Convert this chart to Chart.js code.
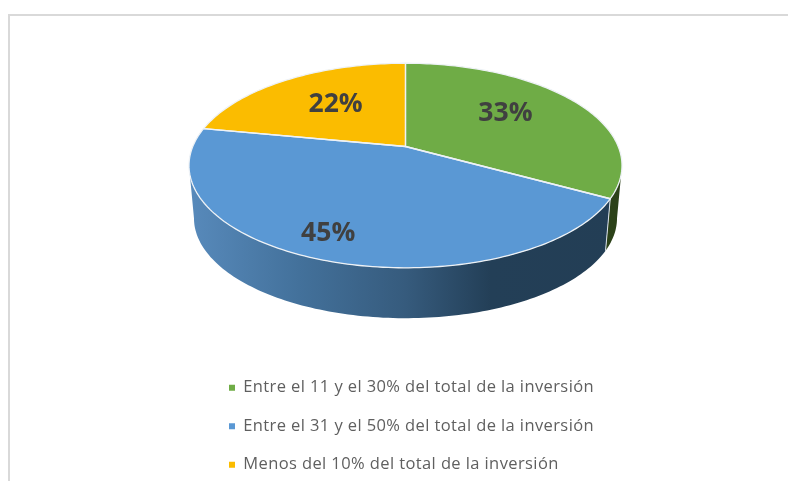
<!DOCTYPE html>
<html>
<head>
<meta charset="utf-8">
<style>
html,body{margin:0;padding:0;background:#fff;width:788px;height:481px;overflow:hidden}
#frame{position:absolute;left:8px;top:14px;width:780px;height:467px;border-top:2px solid #d9d9d9;border-left:2px solid #d9d9d9;box-sizing:border-box}
canvas{position:absolute;left:0;top:0}
</style>
</head>
<body>
<div id="frame"></div>
<canvas id="c" width="788" height="481"></canvas>
<script src="https://cdn.jsdelivr.net/npm/chart.js@4/dist/chart.umd.min.js"></script>
<script>
const categories = [
  "Entre el 11 y el 30% del total de la inversión",
  "Entre el 31 y el 50% del total de la inversión",
  "Menos del 10% del total de la inversión"
];
const values = [33, 45, 22];
const colors = ["#6FAC46", "#5A98D4", "#FBBC00"];

// perspective model of the tilted disc, in units of the pie radius
const K = 0.186, SX = 1.452, SY = 0.674;
const BOTTOM_SCALE = 0.977, BOTTOM_DROP = 0.363;
const LABEL_NUDGE = [[-4, -5], [-29, 25], [5, 0]];

function project(arc, a, f, bottom) {
  const r = arc.outerRadius, u = f * Math.cos(a), v = f * Math.sin(a), w = 1 - K * v;
  const s = bottom ? BOTTOM_SCALE : 1;
  return {
    x: arc.x + r * SX * s * u / w,
    y: arc.y + (bottom ? r * BOTTOM_DROP : 0) + r * SY * s * v / w
  };
}
function trace(ctx, arc, a0, a1, bottom, first) {
  const n = Math.max(2, Math.ceil(Math.abs(a1 - a0) / 0.02));
  for (let i = 0; i <= n; i++) {
    const p = project(arc, a0 + (a1 - a0) * i / n, 1, bottom);
    if (i === 0 && first) ctx.moveTo(p.x, p.y); else ctx.lineTo(p.x, p.y);
  }
}

const pie3d = {
  id: "pie3d",
  beforeDraw(chart) { chart.ctx.letterSpacing = "0.4px"; },
  beforeDatasetDraw() { return false; },
  afterDatasetsDraw(chart) {
    const ctx = chart.ctx, arcs = chart.getDatasetMeta(0).data;
    const aMin = Math.asin(K), aMax = Math.PI - aMin;
    const cx = arcs[0].x, r = arcs[0].outerRadius;

    const blueWall = ctx.createLinearGradient(cx - r * SX, 0, cx + r * SX, 0);
    blueWall.addColorStop(0, "#5789BA");
    blueWall.addColorStop(0.25, "#43719B");
    blueWall.addColorStop(0.5, "#365B7D");
    blueWall.addColorStop(0.7, "#233F57");
    blueWall.addColorStop(1, "#233E55");
    const wallFill = ["#2C4219", blueWall, "#7F6000"];

    ctx.save();
    ctx.letterSpacing = "0px";
    arcs.forEach((arc, i) => {
      const a0 = Math.max(arc.startAngle, aMin), a1 = Math.min(arc.endAngle, aMax);
      if (a1 <= a0) return;
      ctx.beginPath();
      trace(ctx, arc, a0, a1, false, true);
      trace(ctx, arc, a1, a0, true, false);
      ctx.closePath();
      ctx.fillStyle = wallFill[i];
      ctx.fill();
    });
    arcs.forEach((arc) => {
      if (arc.endAngle < aMax && arc.endAngle > aMin) {
        const p = project(arc, arc.endAngle, 1, false), q = project(arc, arc.endAngle, 1, true);
        ctx.beginPath(); ctx.moveTo(p.x, p.y); ctx.lineTo(q.x, q.y);
        ctx.strokeStyle = "#DCE3EA"; ctx.lineWidth = 1; ctx.stroke();
      }
    });
    arcs.forEach((arc, i) => {
      const c = project(arc, 0, 0, false);
      ctx.beginPath();
      ctx.moveTo(c.x, c.y);
      trace(ctx, arc, arc.startAngle, arc.endAngle, false, false);
      ctx.closePath();
      ctx.fillStyle = colors[i];
      ctx.fill();
    });
    arcs.forEach((arc) => {
      const c = project(arc, 0, 0, false);
      ctx.beginPath();
      ctx.moveTo(c.x, c.y);
      trace(ctx, arc, arc.startAngle, arc.endAngle, false, false);
      ctx.closePath();
      ctx.strokeStyle = "#EEF2F6";
      ctx.lineWidth = 1.3;
      ctx.lineJoin = "round";
      ctx.stroke();
    });
    ctx.font = "bold 26.5px 'Open Sans'";
    ctx.fillStyle = "#404040";
    ctx.textAlign = "center";
    ctx.textBaseline = "middle";
    arcs.forEach((arc, i) => {
      const mid = (arc.startAngle + arc.endAngle) / 2;
      const p = project(arc, mid, 0.6, false);
      ctx.fillText(values[i] + "%", p.x + LABEL_NUDGE[i][0], p.y + LABEL_NUDGE[i][1]);
    });
    ctx.restore();
  }
};

const placeLegend = {
  id: "placeLegend",
  afterLayout(chart) {
    const l = chart.legend;
    l.left = 207; l.right = 700; l.top = 357.5; l.bottom = 600;
    l.width = 493; l.height = 242;
  }
};

new Chart(document.getElementById("c"), {
  type: "pie",
  data: {
    labels: categories,
    datasets: [{ data: values, backgroundColor: colors, borderWidth: 0 }]
  },
  plugins: [pie3d, placeLegend],
  options: {
    responsive: false,
    animation: false,
    layout: { padding: { left: 23, top: 0, right: 0, bottom: 188 } },
    plugins: {
      tooltip: { enabled: false },
      legend: {
        position: "chartArea",
        align: "start",
        labels: {
          boxWidth: 6, boxHeight: 6, padding: 22, color: "#5F5F5F",
          textAlign: "left",
          font: { family: "Open Sans", size: 16.5 }
        }
      }
    }
  }
});
</script>
</body>
</html>
